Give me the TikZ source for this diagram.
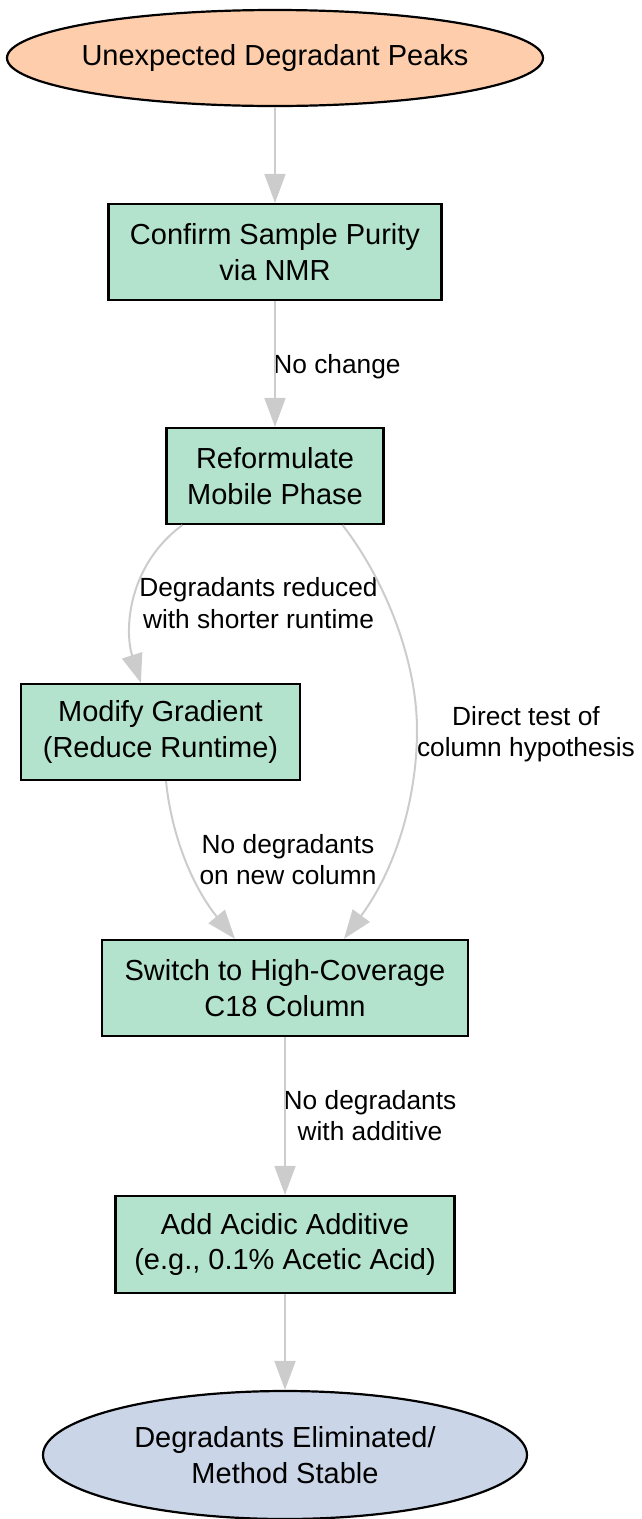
\documentclass[tikz,border=0pt]{standalone}
\usepackage{fontspec}
\setmainfont{Liberation Sans}
\usetikzlibrary{arrows.meta,shapes.geometric}
\definecolor{mintfill}{HTML}{B3E2CD}
\definecolor{peachfill}{HTML}{FDCDAC}
\definecolor{bluefill}{HTML}{CBD5E8}
\definecolor{edgegray}{HTML}{CCCCCC}
\newcommand\mynodefont{\fontsize{29}{35.5}\selectfont}
\newcommand\myedgefont{\fontsize{26.3}{31.5}\selectfont}
\begin{document}
\begin{tikzpicture}[x=1pt,y=-1pt,
  box/.style={draw=black, line width=2.2pt, fill=mintfill, rectangle, inner sep=0pt,
    align=center, font=\mynodefont, minimum height=96pt},
  term/.style={draw=black, line width=2.2pt, ellipse, inner sep=0pt,
    align=center, font=\mynodefont},
  elabel/.style={font=\myedgefont, align=center, inner sep=0pt},
  conn/.style={draw=edgegray, line width=2pt, -{Triangle[length=29pt,width=21pt]}}
]
\useasboundingbox (0,0) rectangle (641,1519);

% nodes
\node[term, fill=peachfill, minimum width=536pt, minimum height=96pt] (e1) at (275,58)
  {\makebox[0pt]{Unexpected Degradant Peaks}};
\node[box, minimum width=333pt] (b1) at (275,252) {Confirm Sample Purity\\via NMR};
\node[box, minimum width=217pt] (b2) at (275,476) {Reformulate\\Mobile Phase};
\node[box, minimum width=279pt] (b3) at (160.5,732) {Modify Gradient\\(Reduce Runtime)};
\node[box, minimum width=366pt] (b4) at (285,988) {Switch to High-Coverage\\C18 Column};
\node[box, minimum width=339pt, minimum height=97pt] (b5) at (285,1244.5) {Add Acidic Additive\\(e.g., 0.1\% Acetic Acid)};
\node[term, fill=bluefill, minimum width=484pt, minimum height=128pt] (e2) at (285,1455)
  {Degradants Eliminated/\\Method Stable};

% edge labels
\node[elabel, anchor=base] (l1) at (337,373) {No change};
\node[elabel] (l2) at (258.5,603) {Degradants reduced\\with shorter runtime};
\node[elabel] (l3) at (526,734) {Direct test of\\column hypothesis};
\node[elabel] (l4) at (288,859.5) {No degradants\\on new column};
\node[elabel] (l5) at (370,1115.5) {No degradants\\with additive};

% connectors
\draw[conn] (e1.south) -- (b1.north);
\draw[conn] (b1.south) -- (b2.north);
\draw[conn] ([xshift=17pt]b2.south west) .. controls (128,565) and (124,630) .. ([xshift=121pt]b3.north west);
\draw[conn] ([xshift=-42pt]b2.south east) .. controls (385,580) and (417,660) .. (417,730)
  .. controls (417,800) and (395,870) .. ([xshift=59pt]b4.north);
\draw[conn] ([xshift=5.5pt]b3.south) .. controls (172,840) and (195,890) .. ([xshift=-50pt]b4.north);
\draw[conn] (b4.south) -- (b5.north);
\draw[conn] (b5.south) -- (e2.north);
\end{tikzpicture}
\end{document}
